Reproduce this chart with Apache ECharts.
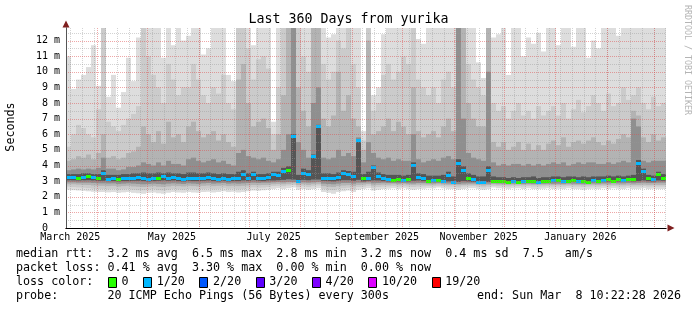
<!DOCTYPE html>
<html><head><meta charset="utf-8">
<script src="https://cdn.jsdelivr.net/npm/echarts@6/dist/echarts.min.js"></script>
<style>html,body{margin:0;padding:0;background:#fff}#c{width:697px;height:310px}</style>
</head><body><div id="c"></div>
<script>
const MONO = "'DejaVu Sans Mono', monospace";
const DAY = 86400000;
const endTime = Date.UTC(2026, 2, 8, 10, 22, 28);
const startTime = endTime - 360 * DAY;
const binMs = 3 * DAY;

// x-axis labels (centred mid-month, every two months)
const labelDates = ['2025-03-16', '2025-05-16', '2025-07-16', '2025-09-16', '2025-11-16', '2026-01-16'];
const labelTexts = ['March 2025', 'May 2025', 'July 2025', 'September 2025', 'November 2025', 'January 2026'];
// major (monthly) grid
const monthStarts = ['2025-04-01','2025-05-01','2025-06-01','2025-07-01','2025-08-01','2025-09-01','2025-10-01','2025-11-01','2025-12-01','2026-01-01','2026-02-01','2026-03-01'];
const firstWeek = '2025-03-16';
// y grid
const yTicks = [0,1,2,3,4,5,6,7,8,9,10,11,12];
const yMinor = [0.5,1.5,2.5,3.5,4.5,5.5,6.5,7.5,8.5,9.5,10.5,11.5,12.5];

// median rtt (ms) per 3-day bin
const median = [
3.22,3.22,3.2,3.25,3.28,3.22,3.18,3.5,3.12,3.15,3.1,3.18,3.15,3.2,3.22,3.18,3.12,3.15,3.2,3.28,3.2,3.25,3.15,3.1,
3.2,3.18,3.15,3.2,3.25,3.15,3.12,3.2,3.1,3.18,3.15,3.45,3.2,3.4,3.2,3.18,3.22,3.45,3.35,3.6,3.7,5.85,2.95,3.5,
3.4,4.55,6.5,3.2,3.18,3.15,3.25,3.5,3.4,3.3,5.6,3.15,3.2,3.85,3.3,3.15,3.1,3.05,3.1,3.05,3.12,4.0,3.25,3.15,
3.0,3.02,3.05,3.0,3.35,2.92,4.15,3.7,3.2,3.1,2.92,2.9,3.7,3.0,2.98,2.95,2.92,2.95,2.92,2.98,2.95,3.0,2.92,2.95,
2.98,3.02,3.05,2.95,3.0,3.05,2.95,3.0,2.92,3.02,2.98,3.05,3.1,3.0,3.1,3.05,3.12,3.08,4.15,3.6,3.15,3.1,3.4,3.2];
// loss class per bin (index into lossColors)
const loss = [
1,1,0,1,0,1,0,1,1,1,0,1,1,1,1,1,1,1,0,1,1,1,1,1,
1,1,1,1,1,1,1,1,1,1,1,1,1,1,1,1,1,1,1,1,0,1,1,1,
1,1,1,1,1,1,1,1,1,1,1,0,1,1,1,1,1,0,0,1,0,1,1,1,
0,1,0,1,1,1,1,1,0,1,1,1,1,0,0,0,0,1,0,1,0,0,1,0,
0,1,0,1,0,0,1,0,0,1,0,1,0,0,0,1,0,0,1,1,0,1,0,0];

// smoke: upper and lower edges of the five grey bands (outer -> inner)
const upper1 = [
11.0,8.9,9.5,9.8,10.3,11.7,9.1,13,8.4,9.8,7.7,8.7,10.9,9.4,12.2,13,13,13,13,10.9,13,11.7,13,12.0,
12.3,13,13,11.1,11.5,13,13,13,9.8,9.4,13,13,13,11.7,13,13,13,6.8,13,13,13,13,13,13,
13,13,13,13,12.2,12.4,13,13,13,13,13,6.2,13,8.5,9.0,12.4,13,13,13,13,13,13,12.1,11.8,
13,13,13,13,13,13,13,13,13,13,10.6,9.6,13,12.2,12.4,13,9.8,13,13,11.0,12.2,11.8,12.5,11.3,
13,13,11.7,13,13,11.6,13,13,10.9,12.0,11.5,13,13,13,12.3,13,13,13,13,13,13,13,13,13];
const upper2 = [
5.2,6.0,6.6,6.4,6.0,5.8,7.6,13,6.8,6.5,6.2,6.6,7.0,7.3,7.8,13,11.0,9.8,9.0,8.0,10.5,9.5,8.5,9.0,
9.0,10.5,9.5,8.5,8.0,9.0,8.6,9.8,8.0,7.6,13,13,11.5,9.5,10.8,11.0,10.2,6.0,9.0,13,13,13,13,11.0,
10.0,13,13,10.5,9.5,10.0,12.0,11.5,13,10.5,9.0,5.6,13,7.5,8.0,9.8,10.5,9.5,10.0,11.0,10.5,13,9.5,9.0,
8.5,9.0,8.0,9.5,10.0,9.0,13,13,10.5,9.5,9.0,8.5,13,8.0,7.5,7.8,7.0,7.5,8.0,7.2,7.5,7.0,7.8,7.2,
7.5,7.8,7.2,8.0,7.0,7.6,8.2,7.4,7.8,8.5,8.0,7.5,8.6,7.8,8.0,9.0,8.2,8.5,9.0,8.0,7.6,8.4,7.8,8.0];
const upper3 = [
4.3,4.4,4.6,4.5,4.7,4.4,4.8,6.0,4.5,4.6,4.4,4.5,4.8,4.9,5.2,6.5,6.0,5.5,6.2,5.4,6.8,5.8,6.0,5.5,
6.5,6.8,6.2,5.8,6.0,6.2,5.6,6.0,5.5,5.2,9.5,10.5,8.0,6.5,6.8,7.0,6.4,5.0,6.0,8.5,13,13,9.0,7.5,
6.5,13,13,7.0,6.5,7.2,10.0,7.5,8.5,7.0,6.5,5.0,12.0,6.0,6.2,6.5,7.0,6.2,6.8,6.5,6.0,9.0,6.2,5.8,
6.0,6.2,5.8,6.5,7.0,6.2,13,13,8.0,7.0,6.5,6.5,13,5.5,5.2,5.5,5.0,5.2,5.5,5.0,5.4,5.0,5.3,5.0,
5.4,5.6,5.3,5.8,5.2,5.5,5.6,5.4,5.6,5.8,5.5,5.3,5.6,5.4,5.7,6.0,5.8,7.5,7.2,5.8,5.5,6.0,5.6,5.8];
const upper4 = [
3.7,3.75,3.8,3.75,3.8,3.75,3.85,4.5,3.8,3.8,3.7,3.75,3.9,3.9,4.0,4.2,4.1,4.0,4.2,4.0,4.3,4.1,4.1,4.0,
4.4,4.5,4.3,4.2,4.3,4.4,4.2,4.3,4.1,4.0,4.8,5.0,4.6,4.5,4.4,4.5,4.3,4.2,4.4,5.0,6.0,13,5.5,5.0,
4.5,8.0,9.0,4.5,4.4,4.5,5.0,4.6,4.8,4.6,5.8,4.2,5.5,4.8,4.5,4.4,4.5,4.3,4.4,4.3,4.3,6.0,4.4,4.2,
4.3,4.4,4.3,4.5,4.6,4.4,13,7.0,4.8,4.5,4.4,4.3,10.0,4.2,4.0,4.1,4.0,4.1,4.1,4.0,4.1,4.0,4.1,4.0,
4.1,4.2,4.1,4.2,4.0,4.1,4.2,4.1,4.2,4.2,4.1,4.1,4.2,4.1,4.2,4.3,4.2,7.0,6.5,4.3,4.2,4.3,4.3,4.3];
const upper5 = [
3.45,3.45,3.45,3.5,3.5,3.45,3.45,3.7,3.4,3.4,3.4,3.45,3.45,3.5,3.5,3.55,3.5,3.5,3.55,3.5,3.55,3.5,3.5,3.45,
3.55,3.55,3.5,3.5,3.55,3.5,3.45,3.5,3.45,3.45,3.6,3.7,3.5,3.6,3.45,3.45,3.5,3.6,3.6,3.85,3.95,6.0,3.4,3.8,
3.7,4.7,6.6,3.5,3.5,3.45,3.55,3.7,3.65,3.6,5.7,3.45,3.6,4.0,3.55,3.45,3.4,3.4,3.4,3.35,3.4,4.2,3.5,3.45,
3.35,3.35,3.35,3.4,3.6,3.3,4.4,3.95,3.5,3.4,3.3,3.3,3.95,3.3,3.25,3.25,3.2,3.25,3.2,3.25,3.25,3.3,3.2,3.25,
3.25,3.3,3.3,3.25,3.3,3.3,3.25,3.3,3.25,3.3,3.3,3.3,3.35,3.3,3.35,3.3,3.35,3.4,4.35,3.8,3.4,3.35,3.6,3.45];
const lower1 = [
2.45,2.42,2.4,2.38,2.35,2.32,2.3,2.3,2.28,2.3,2.25,2.28,2.3,2.25,2.22,2.2,2.25,2.28,2.22,2.2,2.25,2.3,2.28,2.25,
2.3,2.28,2.25,2.3,2.32,2.28,2.3,2.35,2.3,2.32,2.28,2.3,2.35,2.4,2.38,2.42,2.45,2.5,2.55,2.5,2.55,2.6,2.45,2.5,
2.45,2.5,2.55,2.3,2.25,2.2,2.3,2.35,2.4,2.3,2.45,2.5,2.55,2.4,2.45,2.5,2.52,2.55,2.5,2.55,2.5,2.45,2.5,2.52,
2.55,2.55,2.6,2.55,2.5,2.5,2.45,2.5,2.55,2.55,2.5,2.45,2.5,2.6,2.55,2.55,2.5,2.55,2.55,2.5,2.55,2.5,2.5,2.52,
2.55,2.5,2.52,2.5,2.55,2.5,2.5,2.45,2.5,2.52,2.5,2.55,2.5,2.55,2.52,2.5,2.55,2.5,2.5,2.55,2.5,2.52,2.5,2.5];
const lower2 = [
2.65,2.62,2.6,2.58,2.55,2.52,2.5,2.5,2.48,2.5,2.45,2.48,2.5,2.45,2.42,2.42,2.45,2.48,2.42,2.4,2.45,2.5,2.48,2.45,
2.5,2.48,2.45,2.5,2.52,2.48,2.5,2.55,2.5,2.52,2.48,2.5,2.55,2.6,2.58,2.6,2.62,2.68,2.7,2.68,2.72,2.75,2.62,2.68,
2.62,2.68,2.72,2.5,2.45,2.42,2.5,2.55,2.58,2.5,2.62,2.65,2.7,2.58,2.62,2.65,2.66,2.68,2.65,2.68,2.65,2.62,2.65,2.66,
2.68,2.68,2.7,2.68,2.65,2.65,2.6,2.65,2.68,2.68,2.64,2.6,2.64,2.7,2.68,2.68,2.65,2.68,2.68,2.65,2.68,2.65,2.65,2.66,
2.68,2.65,2.66,2.65,2.68,2.65,2.65,2.62,2.65,2.66,2.65,2.68,2.65,2.68,2.66,2.65,2.68,2.65,2.65,2.68,2.65,2.66,2.65,2.65];
const lower3 = [
2.8,2.8,2.78,2.76,2.75,2.72,2.7,2.7,2.68,2.7,2.65,2.68,2.7,2.66,2.64,2.62,2.65,2.68,2.64,2.62,2.66,2.7,2.68,2.66,
2.7,2.68,2.66,2.7,2.72,2.68,2.7,2.72,2.68,2.7,2.68,2.7,2.72,2.75,2.74,2.75,2.76,2.8,2.82,2.8,2.84,2.86,2.76,2.8,
2.76,2.8,2.84,2.68,2.64,2.62,2.68,2.72,2.74,2.68,2.76,2.78,2.82,2.72,2.76,2.78,2.78,2.8,2.78,2.8,2.78,2.76,2.78,2.78,
2.78,2.78,2.8,2.78,2.76,2.76,2.74,2.76,2.78,2.78,2.75,2.72,2.75,2.8,2.78,2.78,2.76,2.78,2.78,2.76,2.78,2.76,2.76,2.77,
2.78,2.76,2.77,2.76,2.78,2.76,2.76,2.74,2.76,2.77,2.76,2.78,2.76,2.78,2.77,2.76,2.78,2.76,2.76,2.78,2.76,2.77,2.76,2.76];
const lower4 = [
2.92,2.92,2.9,2.9,2.9,2.88,2.86,2.86,2.85,2.86,2.82,2.84,2.86,2.84,2.82,2.8,2.82,2.84,2.82,2.8,2.84,2.86,2.84,2.82,
2.86,2.84,2.82,2.86,2.88,2.84,2.86,2.88,2.84,2.86,2.84,2.86,2.88,2.9,2.88,2.9,2.9,2.92,2.94,2.92,2.95,2.95,2.88,2.92,
2.9,2.92,2.95,2.84,2.82,2.8,2.84,2.88,2.88,2.84,2.9,2.9,2.92,2.86,2.88,2.9,2.88,2.88,2.86,2.88,2.86,2.85,2.88,2.88,
2.86,2.86,2.88,2.86,2.85,2.84,2.82,2.85,2.86,2.86,2.84,2.82,2.84,2.86,2.85,2.84,2.82,2.84,2.84,2.82,2.84,2.82,2.82,2.83,
2.84,2.83,2.84,2.83,2.85,2.84,2.83,2.82,2.84,2.85,2.84,2.86,2.86,2.88,2.86,2.86,2.88,2.86,2.88,2.9,2.88,2.88,2.9,2.9];
const lower5 = [
3.05,3.05,3.04,3.05,3.06,3.04,3.02,3.02,3.0,3.0,2.98,3.0,3.0,3.02,3.02,3.0,2.98,3.0,3.02,3.04,3.02,3.04,3.0,2.98,
3.02,3.0,3.0,3.02,3.04,3.0,2.98,3.02,2.98,3.0,3.0,3.04,3.02,3.06,3.02,3.0,3.04,3.04,3.06,3.08,3.12,3.1,2.92,3.08,
3.06,3.1,3.1,3.02,3.0,2.98,3.02,3.06,3.06,3.02,3.08,2.98,3.02,3.04,3.04,3.0,2.98,2.96,2.98,2.96,2.98,3.02,3.04,3.0,
2.94,2.94,2.96,2.94,2.98,2.9,2.95,3.0,2.98,2.96,2.9,2.88,2.95,2.92,2.92,2.9,2.88,2.9,2.88,2.9,2.9,2.92,2.88,2.9,
2.92,2.94,2.96,2.9,2.94,2.96,2.9,2.94,2.88,2.94,2.92,2.96,2.98,2.96,2.98,2.96,3.0,2.98,3.0,3.04,3.0,2.98,3.04,3.02];

const bandColors = ['#dddddd', '#cbcbcb', '#b3b3b3', '#8f8f8f', '#555555'];
const lossColors = ['#26ff00', '#00b8ff', '#0059ff', '#5e00ff', '#7e00ff', '#dd00ff', '#ff0000'];
const lossLabels = ['0', '1/20', '2/20', '3/20', '4/20', '10/20', '19/20'];

const statLines = [
  'median rtt:  3.2 ms avg  6.5 ms max  2.8 ms min  3.2 ms now  0.4 ms sd  7.5   am/s',
  'packet loss: 0.41 % avg  3.30 % max  0.00 % min  0.00 % now'
];
const probeText = 'probe:       20 ICMP Echo Pings (56 Bytes) every 300s';
const endText = 'end: Sun Mar  8 10:22:28 2026';

const toMs = s => new Date(s + 'T00:00:00Z').getTime();
const labelTimes = labelDates.map(toMs);
const monthTimes = monthStarts.map(toMs);
const weekTimes = [];
for (let t = toMs(firstWeek); t < endTime; t += 7 * DAY) weekTimes.push(t);
const binStart = median.map((_, i) => startTime + i * binMs);

const chart = echarts.init(document.getElementById('c'), null, {renderer: 'canvas'});

function csRect(params) {
  const c = params.coordSys;
  return {x: c.x, y: c.y, width: c.width, height: c.height};
}
function bandRenderer(color) {
  return function (params, api) {
    const a = api.coord([api.value(0), api.value(3)]);
    const b = api.coord([api.value(1), api.value(2)]);
    const r = echarts.graphic.clipRectByRect(
      {x: a[0], y: a[1], width: b[0] - a[0], height: b[1] - a[1]}, csRect(params));
    if (!r) return null;
    return {type: 'rect', shape: r, style: {fill: color}};
  };
}
const series = [];
const lows = [lower1, lower2, lower3, lower4, lower5];
const highs = [upper1, upper2, upper3, upper4, upper5];
for (let b = 0; b < 5; b++) {
  series.push({
    type: 'custom', silent: true, z: 2 + b,
    renderItem: bandRenderer(bandColors[b]),
    data: binStart.map((t, i) => [t, t + binMs, lows[b][i], highs[b][i]])
  });
}
series.push({
  type: 'custom', silent: true, z: 8,
  renderItem: function (params, api) {
    const a = api.coord([api.value(0), api.value(2)]);
    const b = api.coord([api.value(1), api.value(2)]);
    const y = Math.round(a[1] - 1.5);
    const r = echarts.graphic.clipRectByRect({x: a[0], y: y, width: b[0] - a[0], height: 3}, csRect(params));
    if (!r) return null;
    return {type: 'rect', shape: r, style: {fill: lossColors[api.value(3)]}};
  },
  data: binStart.map((t, i) => [t, t + binMs, median[i], loss[i]])
});
function vLine(color) {
  return function (params, api) {
    const c = params.coordSys;
    const x = Math.round(api.coord([api.value(0), 0])[0]) + 0.5;
    if (x < c.x || x > c.x + c.width) return null;
    return {type: 'line', shape: {x1: x, y1: c.y, x2: x, y2: c.y + c.height},
      style: {stroke: color, lineWidth: 1, lineDash: [1, 1]}};
  };
}
function hLine(color) {
  return function (params, api) {
    const c = params.coordSys;
    const y = Math.round(api.coord([startTime, api.value(0)])[1]) + 0.5;
    return {type: 'line', shape: {x1: c.x, y1: y, x2: c.x + c.width, y2: y},
      style: {stroke: color, lineWidth: 1, lineDash: [1, 1]}};
  };
}
const GREY = 'rgba(150,150,150,0.42)', RED = 'rgba(222,79,79,0.5)';
series.push({type: 'custom', silent: true, z: 9, renderItem: vLine(GREY), data: weekTimes.map(t => [t])});
series.push({type: 'custom', silent: true, z: 9, renderItem: hLine(GREY), data: yMinor.map(v => [v])});
series.push({type: 'custom', silent: true, z: 10, renderItem: vLine(RED), data: monthTimes.map(t => [t])});
series.push({type: 'custom', silent: true, z: 10, renderItem: hLine(RED), data: yTicks.slice(1).map(v => [v])});

const charW = 11.7 * 0.6021;
const legendX = 16;
const graphics = [
  {type: 'text', x: 348.5, y: 19.5, style: {text: 'Last 360 Days from yurika', font: '13.3px ' + MONO, fill: '#000', align: 'center', verticalAlign: 'middle'}},
  {type: 'text', x: 11, y: 127, rotation: Math.PI / 2, style: {text: 'Seconds', font: '11.7px ' + MONO, fill: '#000', align: 'center', verticalAlign: 'middle'}},
  {type: 'text', x: 687.5, y: 60, rotation: -Math.PI / 2, style: {text: 'RRDTOOL / TOBI OETIKER', font: '8.3px ' + MONO, fill: '#b4b4b4', align: 'center', verticalAlign: 'middle'}}
];
statLines.forEach((s, i) => graphics.push({type: 'text', x: legendX, y: 254 + 14 * i,
  style: {text: s, font: '11.7px ' + MONO, fill: '#000', align: 'left', verticalAlign: 'middle'}}));
// loss colour legend
let lossLine = 'loss color:  ';
const boxIdx = [];
lossLabels.forEach((l, i) => { boxIdx.push(lossLine.length); lossLine += '  ' + l + (i < lossLabels.length - 1 ? '  ' : ''); });
graphics.push({type: 'text', x: legendX, y: 282, style: {text: lossLine, font: '11.7px ' + MONO, fill: '#000', align: 'left', verticalAlign: 'middle'}});
boxIdx.forEach((idx, i) => graphics.push({type: 'rect', shape: {x: Math.round(legendX + idx * charW) + 0.5, y: 277.5, width: 8, height: 10},
  style: {fill: lossColors[i], stroke: '#000', lineWidth: 1}}));
graphics.push({type: 'text', x: legendX, y: 296, style: {text: probeText, font: '11.7px ' + MONO, fill: '#000', align: 'left', verticalAlign: 'middle'}});
graphics.push({type: 'text', x: 681, y: 296, style: {text: endText, font: '11.7px ' + MONO, fill: '#000', align: 'right', verticalAlign: 'middle'}});

chart.setOption({
  animation: false,
  backgroundColor: '#ffffff',
  grid: {left: 66, right: 31, top: 28, bottom: 82, containLabel: false},
  xAxis: [{
    type: 'value', min: startTime, max: endTime, z: 12,
    axisLine: {show: true, lineStyle: {color: '#000', width: 1}},
    axisTick: {show: false}, splitLine: {show: false},
    axisLabel: {show: true, customValues: labelTimes, margin: 4, color: '#000', fontFamily: MONO, fontSize: 10,
      formatter: v => { const i = labelTimes.indexOf(v); return i >= 0 ? labelTexts[i] : ''; }}
  }, {
    type: 'value', min: startTime, max: endTime, position: 'bottom', z: 11,
    axisLine: {show: true, symbol: ['none', 'triangle'], symbolSize: [7, 7], symbolOffset: [0, 5], lineStyle: {color: '#7f1f1f'}},
    axisTick: {show: false}, axisLabel: {show: false}, splitLine: {show: false}
  }],
  yAxis: [{
    type: 'value', min: 0, max: 12.8, z: 12,
    axisLine: {show: true, lineStyle: {color: '#555', width: 1}},
    axisTick: {show: false}, splitLine: {show: false},
    axisLabel: {show: true, customValues: yTicks, margin: 6, color: '#000', fontFamily: MONO, fontSize: 10,
      formatter: v => v === 0 ? '0  ' : v + ' m'}
  }, {
    type: 'value', min: 0, max: 12.8, position: 'left', z: 11,
    axisLine: {show: true, symbol: ['none', 'triangle'], symbolSize: [7, 7], symbolOffset: [0, 4], lineStyle: {color: '#7f1f1f'}},
    axisTick: {show: false}, axisLabel: {show: false}, splitLine: {show: false}
  }],
  series: series,
  graphic: graphics
});
</script></body></html>
